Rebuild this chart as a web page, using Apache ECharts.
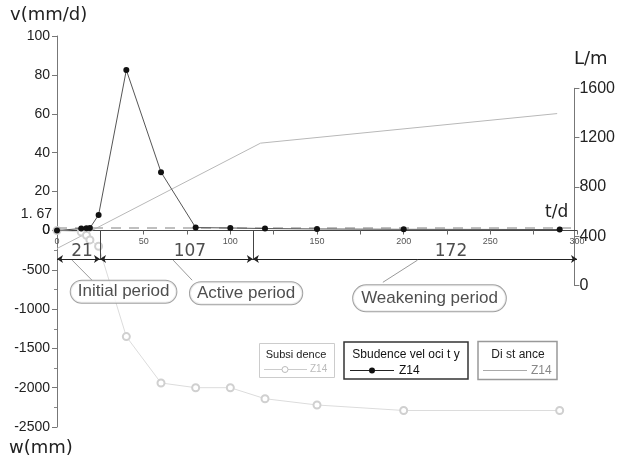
<!DOCTYPE html>
<html>
<head>
<meta charset="utf-8">
<script src="https://cdn.jsdelivr.net/npm/echarts@6/dist/echarts.min.js"></script>
<style>
html, body { margin: 0; padding: 0; background: #fff; }
#main { width: 618px; height: 463px; }
</style>
</head>
<body>
<div id="main"></div>
<script>
// observation time t/d (Z14)
var tDays = [0, 14, 17, 19, 24, 40, 60, 80, 100, 120, 150, 200, 290];
// subsidence velocity v (mm/d)
var velocity = [0, 1.0, 1.2, 1.3, 8, 82.5, 30, 1.5, 1.3, 1.0, 0.8, 0.6, 0.5];
// subsidence w (mm)
var subsidence = [0, -20, -60, -120, -200, -1350, -1940, -2000, -2000, -2140, -2220, -2290, -2290];
// distance L/m
var distT = [0, 118, 290];
var distL = [300, 1155, 1395];
// threshold velocity
var vThreshold = 1.67;
// period split (t/d as drawn) and their day counts
var periodBounds = [0, 24.8, 113, 300];
var periodDays = ['21', '107', '172'];
var periodNames = ['Initial period', 'Active period', 'Weakening period'];

(function() {
	var chart = echarts.init(document.getElementById('main'));
	var FONT = 'Liberation Sans';
	var dimW = -364;   // dimension line level in subsidence coords

	function pairs(xs, ys) {
		return xs.map(function(x, i) { return [x, ys[i]]; });
	}
	function plain(v) { return String(v); }

	//标注 positions
	var dayLabelPos = [[14.4, -262], [76.7, -262], [227.3, -262]];
	var bubblePos = [[38.4, -780], [109.1, -799], [214.9, -863]];
	var leaderLines = [
		[[8.7, -377], [20.2, -633]],
		[[67, -377], [78, -633]],
		[[208, -377], [188, -659]]
	];

	var markData = [];
	for (var i = 0; i < 3; i++) {
		markData.push([
			{ coord: [periodBounds[i], dimW], symbol: 'arrow', lineStyle: { color: '#222', width: 1 } },
			{ coord: [periodBounds[i + 1], dimW], symbol: 'arrow' }
		]);
	}
	[periodBounds[1], periodBounds[2]].forEach(function(t) {
		markData.push([
			{ coord: [t, 0], lineStyle: { color: '#444', width: 1 } },
			{ coord: [t, dimW] }
		]);
	});
	leaderLines.forEach(function(l) {
		markData.push([
			{ coord: l[0], lineStyle: { color: '#999', width: 1 } },
			{ coord: l[1] }
		]);
	});

	var option = {
		animation: false,
		grid: [
			{ left: 57, right: 41, top: 36, height: 194.5 },
			{ left: 57, right: 41, top: 230.5, height: 196.5 },
			{ left: 57, right: 41, top: 88.3, height: 197.2 }
		],
		xAxis: [
			{
				gridIndex: 0, type: 'value', min: 0, max: 300, interval: 50,
				splitLine: { show: false },
				axisLine: { show: true, onZero: false, lineStyle: { color: '#444', width: 1 } },
				axisTick: { show: true, length: 4, lineStyle: { color: '#666' } },
				minorTick: { show: true, splitNumber: 2, length: 4, lineStyle: { color: '#666' } },
				axisLabel: { fontSize: 9, color: '#555', margin: 7, fontFamily: FONT, formatter: plain }
			},
			{ gridIndex: 1, type: 'value', min: 0, max: 300, show: false },
			{ gridIndex: 2, type: 'value', min: 0, max: 300, show: false }
		],
		yAxis: [
			{
				gridIndex: 0, type: 'value', min: 0, max: 100, interval: 20,
				splitLine: { show: false },
				axisLine: { show: true, onZero: false, lineStyle: { color: '#777' } },
				axisTick: { show: true, length: 5, lineStyle: { color: '#777' } },
				axisLabel: { fontSize: 14, color: '#222', margin: 7, fontFamily: FONT, formatter: plain }
			},
			{
				gridIndex: 1, type: 'value', min: -2500, max: 0, interval: 500,
				splitLine: { show: false },
				axisLine: { show: true, onZero: false, lineStyle: { color: '#777' } },
				axisTick: { show: true, length: 5, lineStyle: { color: '#777' } },
				minorTick: { show: true, splitNumber: 2, length: 3, lineStyle: { color: '#888' } },
				axisLabel: { fontSize: 14, color: '#222', margin: 7, fontFamily: FONT, formatter: plain }
			},
			{
				gridIndex: 2, type: 'value', min: 0, max: 1600, interval: 400, position: 'right',
				splitLine: { show: false },
				axisLine: { show: true, onZero: false, lineStyle: { color: '#777' } },
				axisTick: { show: true, length: 5, lineStyle: { color: '#777' } },
				axisLabel: { fontSize: 16, color: '#222', margin: 5, fontFamily: FONT, formatter: plain }
			}
		],
		series: [
			{
				name: 'Distance', type: 'line', xAxisIndex: 2, yAxisIndex: 2,
				data: pairs(distT, distL), showSymbol: false, z: 2,
				lineStyle: { color: '#b8b8b8', width: 1 }
			},
			{
				name: 'Subsidence', type: 'line', xAxisIndex: 1, yAxisIndex: 1,
				data: pairs(tDays, subsidence), symbol: 'emptyCircle', symbolSize: 7, z: 3,
				itemStyle: { color: '#d0d0d0', borderWidth: 1 },
				lineStyle: { color: '#dcdcdc', width: 1 },
				markLine: {
					silent: true, symbol: ['none', 'none'], symbolSize: 6,
					label: { show: false },
					lineStyle: { type: 'solid' },
					data: markData
				}
			},
			{
				name: 'Sbudence velocity', type: 'line', xAxisIndex: 0, yAxisIndex: 0,
				data: pairs(tDays, velocity), symbol: 'circle', symbolSize: 6, z: 5,
				itemStyle: { color: '#111' },
				lineStyle: { color: '#555', width: 1 },
				markLine: {
					silent: true, symbol: ['none', 'none'],
					label: { show: false },
					lineStyle: { color: '#aaa', type: [10, 8], width: 1.5 },
					data: [{ yAxis: vThreshold }]
				}
			},
			{
				name: 'days', type: 'scatter', xAxisIndex: 1, yAxisIndex: 1, z: 8,
				symbolSize: 1, itemStyle: { color: 'rgba(0,0,0,0)' },
				data: dayLabelPos,
				label: {
					show: true, position: 'inside', color: '#222', fontSize: 17,
					fontFamily: 'DejaVu Sans',
					formatter: function(p) { return periodDays[p.dataIndex]; }
				}
			},
			{
				name: 'periods', type: 'scatter', xAxisIndex: 1, yAxisIndex: 1, z: 9,
				symbolSize: 1, itemStyle: { color: 'rgba(0,0,0,0)' },
				data: bubblePos.map(function(p, i) {
					return {
						value: p,
						label: i === 2 ? { padding: [5, 8, 4, 8], borderRadius: 15 } : {}
					};
				}),
				label: {
					show: true, position: 'inside', color: '#222', fontSize: 17,
					fontFamily: FONT,
					backgroundColor: '#fff', borderColor: '#888', borderWidth: 1,
					borderRadius: 11, padding: [3, 7, 2, 7],
					formatter: function(p) { return periodNames[p.dataIndex]; }
				}
			}
		],
		graphic: [
			{ type: 'text', left: 10, top: 6, style: { text: 'v(mm/d)', font: '18px "DejaVu Sans"', fill: '#222' } },
			{ type: 'text', left: 9, top: 439, style: { text: 'w(mm)', font: '18px "DejaVu Sans"', fill: '#222' } },
			{ type: 'text', left: 574, top: 50, style: { text: 'L/m', font: '18px "DejaVu Sans"', fill: '#222' } },
			{ type: 'text', left: 545, top: 204, style: { text: 't/d', font: '17px "DejaVu Sans"', fill: '#222' } },
			{ type: 'text', right: 566, top: 207, style: { text: '1. 67', font: '14px "Liberation Sans"', fill: '#222' } },
			// legend: Subsidence
			{ type: 'rect', shape: { x: 259.5, y: 343.5, width: 75, height: 34 }, style: { fill: '#fff', stroke: '#ccc', lineWidth: 1 } },
			{ type: 'text', x: 296, y: 355, style: { text: 'Subsi dence', font: '11px "Liberation Sans"', fill: '#222', align: 'center', verticalAlign: 'middle' } },
			{ type: 'line', shape: { x1: 264, y1: 369.5, x2: 307, y2: 369.5 }, style: { stroke: '#ccc', lineWidth: 1 } },
			{ type: 'circle', shape: { cx: 285, cy: 369.5, r: 3 }, style: { fill: '#fff', stroke: '#bbb', lineWidth: 1 } },
			{ type: 'text', x: 310, y: 369.5, style: { text: 'Z14', font: '10px "Liberation Sans"', fill: '#bbb', verticalAlign: 'middle' } },
			// legend: velocity
			{ type: 'rect', shape: { x: 344, y: 342, width: 124, height: 37 }, style: { fill: '#fff', stroke: '#333', lineWidth: 1.5 } },
			{ type: 'text', x: 406, y: 355, style: { text: 'Sbudence vel oci t y', font: '12px "Liberation Sans"', fill: '#111', align: 'center', verticalAlign: 'middle' } },
			{ type: 'line', shape: { x1: 350, y1: 370.5, x2: 394, y2: 370.5 }, style: { stroke: '#222', lineWidth: 1 } },
			{ type: 'circle', shape: { cx: 372, cy: 370.5, r: 3 }, style: { fill: '#111' } },
			{ type: 'text', x: 399, y: 370.5, style: { text: 'Z14', font: '12px "Liberation Sans"', fill: '#111', verticalAlign: 'middle' } },
			// legend: Distance
			{ type: 'rect', shape: { x: 478, y: 341.5, width: 79, height: 38 }, style: { fill: '#fff', stroke: '#999', lineWidth: 1.5 } },
			{ type: 'text', x: 518, y: 355, style: { text: 'Di st ance', font: '12px "Liberation Sans"', fill: '#222', align: 'center', verticalAlign: 'middle' } },
			{ type: 'line', shape: { x1: 483, y1: 370.5, x2: 527, y2: 370.5 }, style: { stroke: '#aaa', lineWidth: 1 } },
			{ type: 'text', x: 531, y: 370.5, style: { text: 'Z14', font: '12px "Liberation Sans"', fill: '#888', verticalAlign: 'middle' } }
		]
	};

	chart.setOption(option);
})();
</script>
</body>
</html>
